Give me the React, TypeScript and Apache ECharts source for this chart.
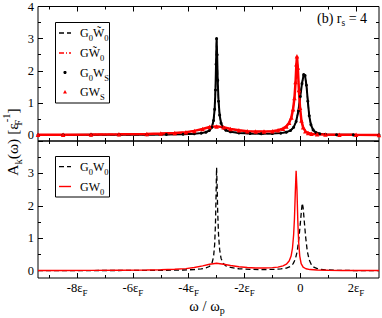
import React, { useEffect, useRef } from 'react';
import * as echarts from 'echarts';

const FONT = 'Liberation Serif';

// axis ranges (x in units of eF)
const xRange = [-9.4, 2.82];
const xMajor = [-8, -6, -4, -2, 0, 2];
const xMinor = [-9, -7, -5, -3, -1, 1];
const yMajor = [0, 1, 2, 3, 4];
const yMinor = [0.5, 1.5, 2.5, 3.5];
const yLabelsTop = [0, 1, 2, 3, 4];
const yLabelsBottom = [0, 1, 2, 3];
const yRangeTop = [-0.185, 4];
const yRangeBottom = [-0.225, 4];

// top panel: G0W~0 / G0WS (black)
const topBlackX = [-9.4, -8.5, -7.5, -6.5, -5.5, -4.8, -4.2, -3.8, -3.55, -3.38, -3.26, -3.17, -3.11, -3.07, -3.04, -3.02, -3.0, -2.98, -2.96, -2.93, -2.89, -2.84, -2.77, -2.67, -2.5, -2.2, -1.8, -1.4, -1.0, -0.7, -0.5, -0.35, -0.24, -0.15, -0.07, 0.0, 0.06, 0.12, 0.17, 0.22, 0.27, 0.32, 0.38, 0.46, 0.56, 0.7, 0.9, 1.3, 1.9, 2.82];
const topBlackY = [0.004, 0.005, 0.006, 0.008, 0.011, 0.016, 0.025, 0.04, 0.06, 0.09, 0.14, 0.24, 0.45, 0.8, 1.4, 2.2, 3.0, 2.5, 1.7, 1.05, 0.62, 0.37, 0.23, 0.15, 0.1, 0.065, 0.045, 0.04, 0.045, 0.06, 0.09, 0.14, 0.24, 0.42, 0.75, 1.2, 1.6, 1.88, 1.85, 1.55, 1.05, 0.6, 0.32, 0.16, 0.08, 0.04, 0.02, 0.01, 0.006, 0.004];

// top panel: GW~0 / GWS (red)
const topRedX = [-9.4, -8.5, -7.5, -6.5, -5.5, -5.0, -4.5, -4.1, -3.8, -3.5, -3.25, -3.0, -2.75, -2.5, -2.2, -1.9, -1.6, -1.3, -1.0, -0.8, -0.62, -0.5, -0.4, -0.32, -0.26, -0.21, -0.17, -0.14, -0.12, -0.09, -0.05, -0.01, 0.04, 0.1, 0.18, 0.28, 0.4, 0.6, 0.9, 1.4, 2.0, 2.82];
const topRedY = [0.01, 0.012, 0.016, 0.022, 0.035, 0.045, 0.065, 0.09, 0.13, 0.19, 0.25, 0.27, 0.24, 0.19, 0.15, 0.12, 0.11, 0.11, 0.12, 0.15, 0.2, 0.27, 0.38, 0.55, 0.8, 1.15, 1.65, 2.2, 2.45, 2.1, 1.4, 0.85, 0.45, 0.24, 0.12, 0.065, 0.04, 0.022, 0.014, 0.009, 0.006, 0.004];

// bottom panel: G0W0 (black dashed)
const botBlackX = [-9.4, -8.5, -7.5, -6.5, -5.5, -4.8, -4.2, -3.8, -3.55, -3.38, -3.26, -3.17, -3.11, -3.07, -3.04, -3.02, -3.0, -2.98, -2.96, -2.93, -2.89, -2.84, -2.77, -2.67, -2.5, -2.2, -1.8, -1.4, -1.0, -0.7, -0.5, -0.36, -0.26, -0.18, -0.11, -0.05, 0.0, 0.04, 0.07, 0.1, 0.14, 0.19, 0.25, 0.32, 0.4, 0.5, 0.65, 0.9, 1.3, 1.9, 2.82];
const botBlackY = [0.003, 0.004, 0.005, 0.007, 0.01, 0.014, 0.022, 0.035, 0.055, 0.085, 0.13, 0.22, 0.42, 0.8, 1.45, 2.3, 3.18, 2.6, 1.8, 1.1, 0.65, 0.38, 0.23, 0.15, 0.1, 0.06, 0.04, 0.035, 0.04, 0.055, 0.08, 0.13, 0.21, 0.35, 0.6, 1.0, 1.45, 1.85, 2.08, 1.95, 1.55, 1.05, 0.6, 0.33, 0.18, 0.1, 0.05, 0.025, 0.012, 0.006, 0.003];

// bottom panel: GW0 (red solid)
const botRedX = [-9.4, -8.5, -7.5, -6.5, -5.5, -5.0, -4.5, -4.1, -3.8, -3.5, -3.25, -3.0, -2.75, -2.5, -2.2, -1.9, -1.6, -1.3, -1.0, -0.8, -0.62, -0.5, -0.4, -0.33, -0.28, -0.24, -0.21, -0.18, -0.15, -0.12, -0.09, -0.06, -0.02, 0.03, 0.1, 0.2, 0.35, 0.6, 1.0, 1.5, 2.1, 2.82];
const botRedY = [0.006, 0.008, 0.011, 0.015, 0.022, 0.03, 0.045, 0.065, 0.1, 0.15, 0.2, 0.23, 0.2, 0.16, 0.12, 0.1, 0.085, 0.085, 0.095, 0.11, 0.15, 0.2, 0.3, 0.45, 0.7, 1.1, 1.6, 2.4, 3.08, 2.5, 1.55, 0.9, 0.45, 0.22, 0.11, 0.06, 0.035, 0.02, 0.012, 0.008, 0.005, 0.004];

// legend labels (rich text)
const topLegendLabels = [
  '{n|G}{s|0}{n|W\u0303}{s|0}',
  '{n|GW\u0303}{s|0}',
  '{n|G}{s|0}{n|W}{s|S}',
  '{n|GW}{s|S}',
];
const bottomLegendLabels = ['{n|G}{s|0}{n|W}{s|0}', '{n|GW}{s|0}'];

function zip(xs: number[], ys: number[]) {
  return xs.map((x, i) => [x, ys[i]]);
}

const richAxis = {
  n: { fontSize: 12.5, fontFamily: FONT, color: '#000', lineHeight: 13, padding: [5, 0, 5, 0] },
  s: { fontSize: 9, fontFamily: FONT, color: '#000', lineHeight: 13, padding: [10, 0, 0, 0] },
};

function richG(size: number, subSize: number, off: number) {
  return {
    n: { fontSize: size, fontFamily: FONT, fill: '#000', lineHeight: 13, padding: [off, 0, off, 0] },
    s: { fontSize: subSize, fontFamily: FONT, fill: '#000', lineHeight: 13, padding: [2 * off, 0, 0, 0] },
    f: { fontSize: subSize, fontFamily: FONT, fill: '#000', lineHeight: 13, padding: [2 * off, 0, 0, 0], width: 1 },
    p: { fontSize: subSize, fontFamily: FONT, fill: '#000', lineHeight: 13, padding: [0, 0, 2 * off, 0] },
  };
}

function tick(vals: number[], len: number) {
  return { show: true, inside: true, length: len, customValues: vals, lineStyle: { color: '#000', width: 1 } };
}

function xAxes(grid: number, showLabels: boolean) {
  const base = {
    gridIndex: grid, type: 'value', min: xRange[0], max: xRange[1],
    axisLine: { show: false, onZero: false }, splitLine: { show: false },
  };
  return [
    {
      ...base, position: 'bottom', axisTick: tick(xMajor, 5),
      axisLabel: showLabels
        ? {
            show: true, customValues: xMajor, margin: 3.5,
            formatter: (v: number) => (v === 0 ? '{n|0}' : `{n|${v}\u03b5}{s|F}`),
            rich: richAxis,
          }
        : { show: false },
    },
    { ...base, position: 'bottom', axisTick: tick(xMinor, 3), axisLabel: { show: false } },
    { ...base, position: 'top', axisTick: tick(xMajor, 5), axisLabel: { show: false } },
    { ...base, position: 'top', axisTick: tick(xMinor, 3), axisLabel: { show: false } },
  ];
}

function yAxes(grid: number, range: number[], labels: number[]) {
  const base = {
    gridIndex: grid, type: 'value', min: range[0], max: range[1],
    axisLine: { show: false, onZero: false }, splitLine: { show: false },
  };
  return [
    {
      ...base, position: 'left', axisTick: tick(yMajor, 5),
      axisLabel: { show: true, customValues: labels, margin: 4, fontSize: 12.5, fontFamily: FONT, color: '#000' },
    },
    { ...base, position: 'left', axisTick: tick(yMinor, 3), axisLabel: { show: false } },
    { ...base, position: 'right', axisTick: tick(yMajor, 5), axisLabel: { show: false } },
    { ...base, position: 'right', axisTick: tick(yMinor, 3), axisLabel: { show: false } },
  ];
}

function legendText(label: string, y: number) {
  return {
    type: 'text', x: 80, y, z: 101,
    style: { text: label, textAlign: 'left', textVerticalAlign: 'middle', fill: '#000', rich: richG(12, 8.5, 5) },
  };
}

export default function App() {
  const ref = useRef<HTMLDivElement>(null);
  useEffect(() => {
    if (!ref.current) return;
    const chart = echarts.init(ref.current, undefined, { renderer: 'svg' });
    const black = '#000000';
    const red = '#ff0000';
    const topRows = [33, 53, 72.5, 92];
    const botRows = [166.7, 186.5];
    const option: any = {
      animation: false,
      backgroundColor: '#fff',
      grid: [
        { left: 38, right: 3, top: 5, height: 136, show: true, borderColor: '#000', borderWidth: 1, backgroundColor: 'transparent' },
        { left: 38, right: 3, top: 141, height: 137, show: true, borderColor: '#000', borderWidth: 1, backgroundColor: 'transparent' },
      ],
      xAxis: [...xAxes(0, false), ...xAxes(1, true)],
      yAxis: [...yAxes(0, yRangeTop, yLabelsTop), ...yAxes(1, yRangeBottom, yLabelsBottom)],
      series: [
        {
          name: 'G0W~0', type: 'line', xAxisIndex: 0, yAxisIndex: 0, data: zip(topBlackX, topBlackY),
          symbol: 'none', lineStyle: { color: black, width: 1.3, type: [5, 3] }, itemStyle: { color: black },
        },
        {
          name: 'G0WS', type: 'line', xAxisIndex: 0, yAxisIndex: 0, data: zip(topBlackX, topBlackY),
          symbol: 'circle', symbolSize: 3, showSymbol: true,
          lineStyle: { color: black, width: 2 }, itemStyle: { color: black, borderWidth: 0 },
        },
        {
          name: 'GW~0', type: 'line', xAxisIndex: 0, yAxisIndex: 0, data: zip(topRedX, topRedY),
          symbol: 'none', lineStyle: { color: red, width: 1.3, type: [5, 2, 1, 2] }, itemStyle: { color: red },
        },
        {
          name: 'GWS', type: 'line', xAxisIndex: 0, yAxisIndex: 0, data: zip(topRedX, topRedY),
          symbol: 'triangle', symbolSize: 4.5, showSymbol: true,
          lineStyle: { color: red, width: 2.5 }, itemStyle: { color: red, borderWidth: 0 },
        },
        {
          name: 'G0W0', type: 'line', xAxisIndex: 4, yAxisIndex: 4, data: zip(botBlackX, botBlackY),
          symbol: 'none', lineStyle: { color: black, width: 1.3, type: [5, 3] }, itemStyle: { color: black },
        },
        {
          name: 'GW0', type: 'line', xAxisIndex: 4, yAxisIndex: 4, data: zip(botRedX, botRedY),
          symbol: 'none', lineStyle: { color: red, width: 1.4 }, itemStyle: { color: red },
        },
      ],
      graphic: [
        // top legend
        { type: 'rect', z: 100, shape: { x: 55.5, y: 22.5, width: 54, height: 80.5 }, style: { fill: '#fff', stroke: '#000', lineWidth: 1 } },
        { type: 'line', z: 101, shape: { x1: 59, y1: topRows[0], x2: 71, y2: topRows[0] }, style: { stroke: black, lineWidth: 1.3, lineDash: [5, 3] } },
        { type: 'line', z: 101, shape: { x1: 59, y1: topRows[1], x2: 71, y2: topRows[1] }, style: { stroke: red, lineWidth: 1.3, lineDash: [5, 2, 1, 2] } },
        { type: 'circle', z: 101, shape: { cx: 65, cy: topRows[2], r: 1.6 }, style: { fill: black } },
        { type: 'polygon', z: 101, shape: { points: [[63, topRows[3] + 1.5], [67, topRows[3] + 1.5], [65, topRows[3] - 2]] }, style: { fill: red } },
        legendText(topLegendLabels[0], topRows[0]),
        legendText(topLegendLabels[1], topRows[1]),
        legendText(topLegendLabels[2], topRows[2]),
        legendText(topLegendLabels[3], topRows[3]),
        // bottom legend
        { type: 'rect', z: 100, shape: { x: 55.5, y: 156.5, width: 54, height: 40.5 }, style: { fill: '#fff', stroke: '#000', lineWidth: 1 } },
        { type: 'line', z: 101, shape: { x1: 59, y1: botRows[0], x2: 71, y2: botRows[0] }, style: { stroke: black, lineWidth: 1.3, lineDash: [5, 3] } },
        { type: 'line', z: 101, shape: { x1: 59, y1: botRows[1], x2: 71, y2: botRows[1] }, style: { stroke: red, lineWidth: 1.4 } },
        legendText(bottomLegendLabels[0], botRows[0]),
        legendText(bottomLegendLabels[1], botRows[1]),
        // axis titles and annotation
        {
          type: 'text', x: 12, y: 142, rotation: Math.PI / 2,
          style: {
            text: '{n|A}{s|k}{n|(\u03c9) [\u03b5}{f|F}{p|-1}{n|]}',
            textAlign: 'center', textVerticalAlign: 'middle', fill: '#000',
            rich: richG(15.5, 10.5, 6),
          },
        },
        {
          type: 'text', x: 207, y: 306,
          style: {
            text: '{n|\u03c9 / \u03c9}{s|p}',
            textAlign: 'center', textVerticalAlign: 'middle', fill: '#000',
            rich: richG(14.5, 10, 4),
          },
        },
        {
          type: 'text', x: 317, y: 18,
          style: {
            text: '{n|(b) r}{s|s}{n| = 4}',
            textAlign: 'left', textVerticalAlign: 'middle', fill: '#000',
            rich: richG(14, 9.5, 5),
          },
        },
      ],
    };
    chart.setOption(option);
    return () => chart.dispose();
  }, []);
  return <div ref={ref} style={{ position: 'fixed', left: 0, top: 0, width: 382, height: 318 }} />;
}
